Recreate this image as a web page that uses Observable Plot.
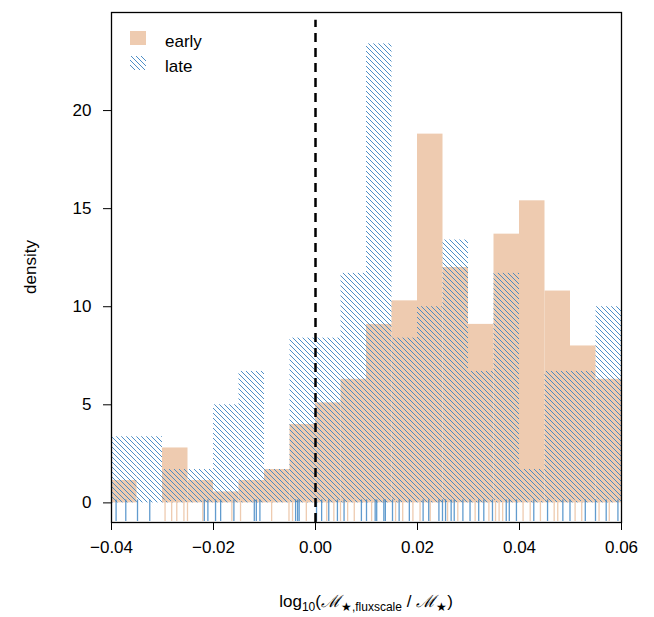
<!DOCTYPE html>
<html>
<head>
<meta charset="UTF-8">
<script src="https://cdn.jsdelivr.net/npm/d3@7"></script>
<script src="https://cdn.jsdelivr.net/npm/@observablehq/plot@0.6"></script>
<style>
  body { margin: 0; background: #fff; }
  #chart svg { font-family: "Liberation Sans", Arial, sans-serif; }
</style>
</head>
<body>
<div id="chart"></div>
<script>
// bin edges (left) of the histograms, width 0.005
const binLeft = [-0.04, -0.035, -0.03, -0.025, -0.02, -0.015, -0.01, -0.005, 0, 0.005,
                 0.01, 0.015, 0.02, 0.025, 0.03, 0.035, 0.04, 0.045, 0.05, 0.055];
const binRight = [-0.035, -0.03, -0.025, -0.02, -0.015, -0.01, -0.005, 0, 0.005, 0.01,
                  0.015, 0.02, 0.025, 0.03, 0.035, 0.04, 0.045, 0.05, 0.055, 0.06];
const earlyDensity = [1.14, 0, 2.8, 1.14, 0.56, 1.14, 1.7, 4.0, 5.1, 6.3,
                      9.1, 10.3, 18.8, 12.0, 9.1, 13.7, 15.4, 10.8, 8.0, 6.3];
const lateDensity = [3.37, 3.37, 1.7, 1.7, 5.0, 6.7, 1.7, 8.4, 8.4, 11.7,
                     23.4, 8.4, 10.0, 13.4, 6.7, 11.7, 1.7, 6.7, 6.7, 10.0];

// rug values
const earlyRug = [-0.0295, -0.0282, -0.0272, -0.0258, -0.0251, -0.0221, -0.0164, -0.0147, -0.0086,
  -0.0052, -0.0045, -0.0018, 0.0022, 0.0036, 0.0049, 0.0063, 0.0076, 0.0110, 0.0157, 0.0171,
  0.0191, 0.0205, 0.0225, 0.0259, 0.0279, 0.0313, 0.0340, 0.0353, 0.0360, 0.0367, 0.0407,
  0.0421, 0.0441, 0.0468, 0.0475, 0.0509, 0.0522, 0.0556, 0.0576];
const lateRug = [-0.0391, -0.0372, -0.0349, -0.0325, -0.0218, -0.0211, -0.0196, -0.0186, -0.0160,
  -0.0120, -0.0116, -0.0109, -0.0039, -0.0035, -0.0032, 0.0002, 0.0012, 0.0026, 0.0043, 0.0056,
  0.0090, 0.0100, 0.0117, 0.0120, 0.0134, 0.0137, 0.0151, 0.0164, 0.0184, 0.0211, 0.0222,
  0.0242, 0.0249, 0.0255, 0.0266, 0.0272, 0.0289, 0.0303, 0.0320, 0.0330, 0.0347, 0.0374,
  0.0380, 0.0394, 0.0428, 0.0455, 0.0485, 0.0499, 0.0529, 0.0549, 0.0570, 0.0593];

const xTicks = [-0.04, -0.02, 0, 0.02, 0.04, 0.06];
const yTicks = [0, 5, 10, 15, 20];

const tan = "#eecbb0";
const blue = "#3a82c2";

const bins = binLeft.map((x1, i) => ({x1, x2: binRight[i], early: earlyDensity[i], late: lateDensity[i]}));
const fmt = d => d === 0 ? "0.00" : d3.format(".2f")(d);

const chart = Plot.plot({
  width: 654,
  height: 617,
  marginLeft: 111,
  marginRight: 33,
  marginTop: 12,
  marginBottom: 95,
  style: {fontSize: "17px", fontFamily: "Liberation Sans, Arial, sans-serif"},
  x: {domain: [-0.04, 0.06]},
  y: {domain: [-1, 25]},
  marks: [
    Plot.rectY(bins, {x1: "x1", x2: "x2", y: "early", fill: tan}),
    Plot.rectY(bins, {x1: "x1", x2: "x2", y: "late", fill: "url(#hatch)"}),
    Plot.ruleX(earlyRug, {y1: 0.15, y2: -0.95, stroke: tan, strokeWidth: 1.3}),
    Plot.ruleX(lateRug, {y1: 0.15, y2: -0.95, stroke: blue, strokeWidth: 1.3, strokeOpacity: 0.8}),
    Plot.ruleX([0], {y1: -1, y2: 24.6, stroke: "black", strokeWidth: 2.5, strokeDasharray: "9,6"}),
    Plot.axisX({ticks: xTicks, tickFormat: fmt, tickSize: 8, tickPadding: 10, fontSize: 17, label: null}),
    Plot.axisY({ticks: yTicks, tickSize: 8, tickPadding: 12, fontSize: 17, label: null}),
    Plot.frame({stroke: "black", strokeWidth: 1.3})
  ]
});

const svg = d3.select(chart);
const defs = svg.insert("defs", ":first-child");
const pat = defs.append("pattern").attr("id", "hatch").attr("patternUnits", "userSpaceOnUse")
  .attr("width", 5).attr("height", 5);
pat.append("path").attr("d", "M-1,-1 L6,6 M-1,4 L1,6 M4,-1 L6,1")
  .attr("stroke", blue).attr("stroke-width", 0.9);

// y axis title
svg.append("text").attr("transform", "translate(36,267) rotate(-90)")
  .attr("text-anchor", "middle").attr("font-size", 17).text("density");

// x axis title
const xt = svg.append("text").attr("x", 366).attr("y", 607).attr("text-anchor", "middle").attr("font-size", 17);
xt.append("tspan").text("log");
xt.append("tspan").attr("font-size", 12).attr("dy", 4).text("10");
xt.append("tspan").attr("dy", -4).text("(");
xt.append("tspan").attr("font-style", "italic").attr("font-family", "DejaVu Serif").text("ℳ");
xt.append("tspan").attr("font-size", 12).attr("dy", 4).text("★,fluxscale");
xt.append("tspan").attr("dy", -4).text(" / ");
xt.append("tspan").attr("font-style", "italic").attr("font-family", "DejaVu Serif").text("ℳ");
xt.append("tspan").attr("font-size", 12).attr("dy", 4).text("★");
xt.append("tspan").attr("dy", -4).text(")");

// legend
svg.append("rect").attr("x", 130).attr("y", 31).attr("width", 16).attr("height", 14).attr("fill", tan);
svg.append("text").attr("x", 165).attr("y", 47).attr("text-anchor", "start").attr("font-size", 17).text("early");
svg.append("rect").attr("x", 130).attr("y", 56).attr("width", 16).attr("height", 14).attr("fill", "url(#hatch)");
svg.append("text").attr("x", 165).attr("y", 72).attr("text-anchor", "start").attr("font-size", 17).text("late");

document.getElementById("chart").appendChild(chart);
</script>
</body>
</html>
